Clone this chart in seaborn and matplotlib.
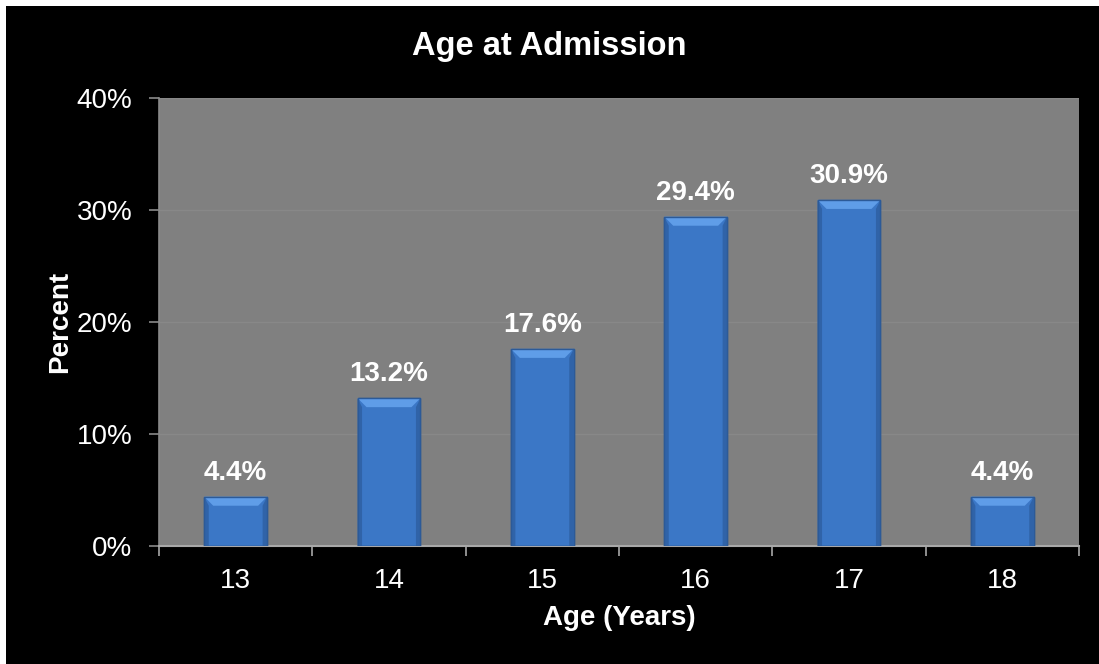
import numpy as np
import pandas as pd
import matplotlib
matplotlib.use("Agg")
import matplotlib.pyplot as plt
from matplotlib.patches import Rectangle, Polygon
from matplotlib.ticker import FixedLocator, FuncFormatter
import seaborn as sns

ages = ["13", "14", "15", "16", "17", "18"]
percents = [4.4, 13.2, 17.6, 29.4, 30.9, 4.4]
y_ticks = [0, 10, 20, 30, 40]

sns.set_theme(style="dark")
plt.rcParams["font.family"] = ["Liberation Sans", "DejaVu Sans"]

df = pd.DataFrame({"age": ages, "pct": percents})

fig = plt.figure(figsize=(10.99, 6.64), dpi=100, facecolor="black")
# thin white frame along the top and left edges
fig.patches.append(Rectangle((0, 1 - 6 / 664), 1, 6 / 664, transform=fig.transFigure,
                             facecolor="white", edgecolor="none", zorder=10))
fig.patches.append(Rectangle((0, 0), 6 / 1099, 1, transform=fig.transFigure,
                             facecolor="white", edgecolor="none", zorder=10))

ax = fig.add_axes([159 / 1099, 1 - 546 / 664, (1079 - 159) / 1099, (546 - 98) / 664])
ax.set_facecolor("#808080")

sns.barplot(data=df, x="age", y="pct", color="#3b77c6", width=0.41,
            saturation=1, edgecolor="#2c5a98", linewidth=1.0, ax=ax, zorder=3)

ax.set_xlim(-0.5, len(ages) - 0.5)
ax.set_ylim(0, 40)
ax.set_yticks(y_ticks)
ax.yaxis.set_major_formatter(FuncFormatter(lambda v, _: f"{v:.0f}%"))
ax.grid(axis="y", color="#888888", linewidth=1.0, zorder=0)
ax.grid(axis="x", visible=False)

for side in ["top", "right"]:
    ax.spines[side].set_visible(False)
ax.spines["left"].set_color("#8a8a8a")
ax.spines["bottom"].set_color("#a8a8a8")
ax.spines["left"].set_linewidth(1.2)
ax.spines["bottom"].set_linewidth(1.5)

# category labels centred, tick marks on the category boundaries
ax.xaxis.set_minor_locator(FixedLocator(np.arange(-0.5, len(ages), 1.0)))
ax.tick_params(axis="x", which="major", length=0, pad=16, labelsize=20, colors="white")
ax.tick_params(axis="x", which="minor", length=7, width=1.2, color="#a8a8a8", bottom=True)
ax.tick_params(axis="y", which="major", length=7, width=1.2, color="#8a8a8a", pad=12,
               labelsize=20, labelcolor="white", left=True)

ax.set_xlabel("Age (Years)", color="white", fontsize=20, fontweight="bold")
ax.set_ylabel("Percent", color="white", fontsize=20, fontweight="bold")
ax.xaxis.set_label_coords(0.5, -(618 - 546) / 448)
ax.xaxis.label.set_va("center")
ax.yaxis.set_label_coords(-(159 - 60) / 920, 0.5)
ax.yaxis.label.set_va("center")
fig.text(0.5, 1 - 47 / 664, "Age at Admission", color="white", fontsize=23.5,
         fontweight="bold", ha="center", va="center")

fig.canvas.draw()

# bevel shading on each bar: darker sides, lighter top facet
to_data = ax.transData.inverted()
px_x = abs(to_data.transform((9, 0))[0] - to_data.transform((0, 0))[0])
px_y = abs(to_data.transform((0, 9))[1] - to_data.transform((0, 0))[1])
for patch, val in zip(ax.patches, percents):
    x0 = patch.get_x()
    w = patch.get_width()
    h = patch.get_height()
    bev_y = min(px_y, h * 0.5)
    bev_x = min(px_x, w * 0.3)
    # side facets
    ax.add_patch(Polygon([(x0, 0), (x0 + bev_x * 0.5, 0), (x0 + bev_x * 0.5, h - bev_y), (x0, h)],
                         closed=True, facecolor="#3063a8", edgecolor="none", zorder=4))
    ax.add_patch(Polygon([(x0 + w, 0), (x0 + w - bev_x * 0.5, 0), (x0 + w - bev_x * 0.5, h - bev_y), (x0 + w, h)],
                         closed=True, facecolor="#3063a8", edgecolor="none", zorder=4))
    # top facet
    ax.add_patch(Polygon([(x0, h), (x0 + w, h), (x0 + w - bev_x, h - bev_y), (x0 + bev_x, h - bev_y)],
                         closed=True, facecolor="#5f9de8", edgecolor="none", zorder=4))
    ax.add_patch(Rectangle((x0, 0), w, h, facecolor="none", edgecolor="#2c5a98",
                           linewidth=1.0, zorder=5))
    ax.annotate(f"{val:.1f}%", (x0 + w / 2, h), xytext=(0, 12), textcoords="offset points",
                ha="center", va="baseline", color="white", fontsize=20, fontweight="bold",
                zorder=6)

fig.savefig("out.png", dpi=100, facecolor="black")
